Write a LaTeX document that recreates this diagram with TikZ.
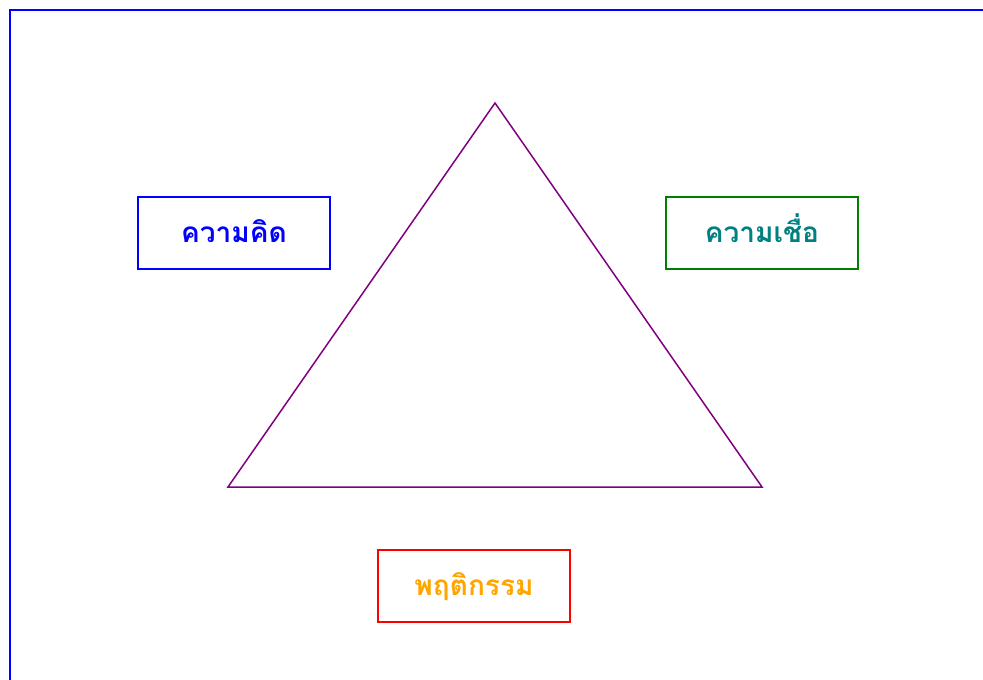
\documentclass[tikz,border=0pt]{standalone}
\usepackage{fontspec}
\newfontfamily\thaifont[Script=Thai]{Loma}
\definecolor{tealc}{RGB}{0,128,128}
\definecolor{greenc}{RGB}{0,128,0}
\definecolor{orangec}{RGB}{255,165,0}
\definecolor{purplec}{RGB}{128,0,128}
\begin{document}
\begin{tikzpicture}[x=1pt,y=-1pt,
  box/.style={draw,line width=1.5pt,minimum width=192pt,minimum height=72pt,inner sep=0pt},
  lbl/.style={inner sep=0pt,anchor=base,font=\thaifont\bfseries\fontsize{28}{32}\selectfont}]
\useasboundingbox (0,0) rectangle (983,680);
\begin{scope}
\clip (0,0) rectangle (983,680);
\draw[blue,line width=2pt] (10,10) rectangle (990,690);
\end{scope}
\coordinate (apex) at (495,103);
\coordinate (bl) at (228,487);
\coordinate (br) at (762,487);
\draw[purplec,line width=1.5pt] (apex) -- (bl) -- (br) -- cycle;
\node[box,blue] (think) at (234,233) {};
\node[box,greenc] (belief) at (762,233) {};
\node[box,red] (behav) at (474,586) {};
\node[lbl,text=blue] (thinkt) at ([yshift=-9pt]think.center) {ความคิด};
\node[lbl,text=tealc] (belieft) at ([yshift=-9pt]belief.center) {ความเชื่อ};
\node[lbl,text=orangec] (behavt) at ([yshift=-9pt]behav.center) {พฤติกรรม};
\end{tikzpicture}
\end{document}
